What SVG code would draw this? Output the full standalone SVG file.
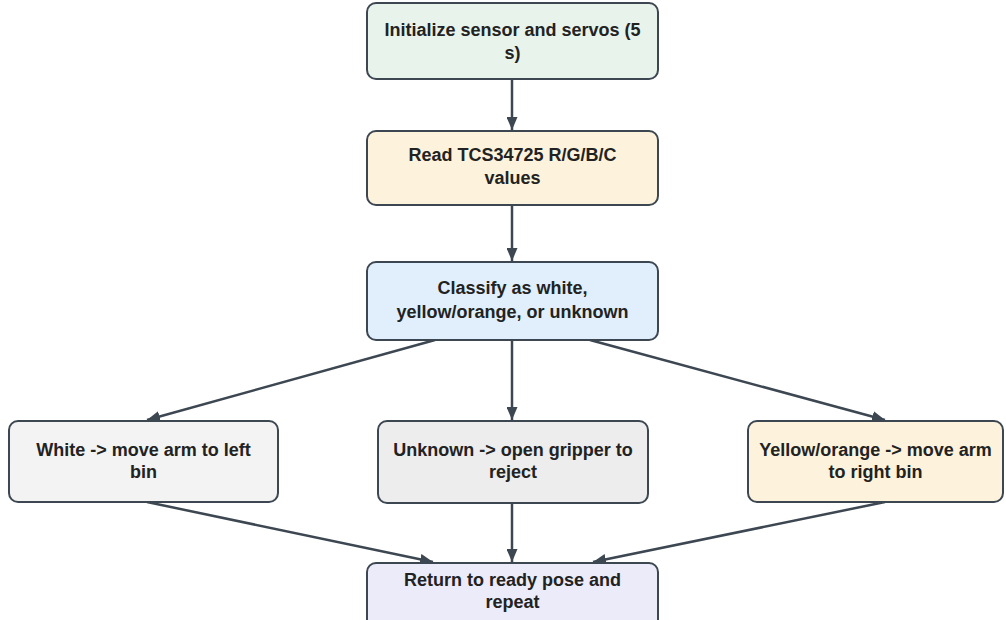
<svg xmlns="http://www.w3.org/2000/svg" width="1006" height="620" viewBox="0 0 1006 620">
<style>
.n{stroke:#3d4752;stroke-width:2}
.t{font-family:"Liberation Sans",Arial,sans-serif;font-weight:bold;font-size:18px;fill:#222;text-anchor:middle}
.c{stroke:#3d4752;stroke-width:2.5;fill:none;marker-end:url(#a)}
</style>
<defs>
<marker id="a" viewBox="0 0 13 11" refX="13" refY="5.5" markerWidth="13" markerHeight="11" markerUnits="userSpaceOnUse" orient="auto">
<path d="M0,0 L13,5.5 L0,11 z" fill="#3d4752"/>
</marker>
</defs>
<rect width="1006" height="620" fill="#fff"/>
<g id="connectors">
<line class="c" x1="512" y1="79" x2="512" y2="130"/>
<line class="c" x1="512" y1="205" x2="512" y2="261"/>
<line class="c" x1="435" y1="340" x2="147" y2="420"/>
<line class="c" x1="512" y1="340" x2="512" y2="420"/>
<line class="c" x1="590" y1="340" x2="885" y2="420"/>
<line class="c" x1="147" y1="502" x2="433" y2="562"/>
<line class="c" x1="512" y1="503" x2="512" y2="562"/>
<line class="c" x1="885" y1="502" x2="593" y2="562"/>
</g>
<g id="n1">
<rect class="n" x="367" y="3" width="291" height="76" rx="9" fill="#e8f3ec"/>
<text class="t" x="512.5" y="36">Initialize sensor and servos (5</text>
<text class="t" x="512.5" y="59">s)</text>
</g>
<g id="n2">
<rect class="n" x="367" y="131" width="291" height="74" rx="9" fill="#fdf3dc"/>
<text class="t" x="512.5" y="161">Read TCS34725 R/G/B/C</text>
<text class="t" x="512.5" y="184">values</text>
</g>
<g id="n3">
<rect class="n" x="367" y="262" width="291" height="78" rx="9" fill="#e1effc"/>
<text class="t" x="512.5" y="294">Classify as white,</text>
<text class="t" x="512.5" y="318">yellow/orange, or unknown</text>
</g>
<g id="n4">
<rect class="n" x="9" y="421" width="269" height="81" rx="9" fill="#f3f3f3"/>
<text class="t" x="143.5" y="456">White -&gt; move arm to left</text>
<text class="t" x="143.5" y="478">bin</text>
</g>
<g id="n5">
<rect class="n" x="378" y="421" width="270" height="82" rx="9" fill="#ededed"/>
<text class="t" x="513" y="456">Unknown -&gt; open gripper to</text>
<text class="t" x="513" y="478">reject</text>
</g>
<g id="n6">
<rect class="n" x="748" y="421" width="255" height="81" rx="9" fill="#fdf3dc"/>
<text class="t" x="875.5" y="456">Yellow/orange -&gt; move arm</text>
<text class="t" x="875.5" y="478">to right bin</text>
</g>
<g id="n7">
<rect class="n" x="367" y="563" width="291" height="70" rx="9" fill="#ecebfa"/>
<text class="t" x="512.5" y="586">Return to ready pose and</text>
<text class="t" x="512.5" y="608">repeat</text>
</g>
</svg>
